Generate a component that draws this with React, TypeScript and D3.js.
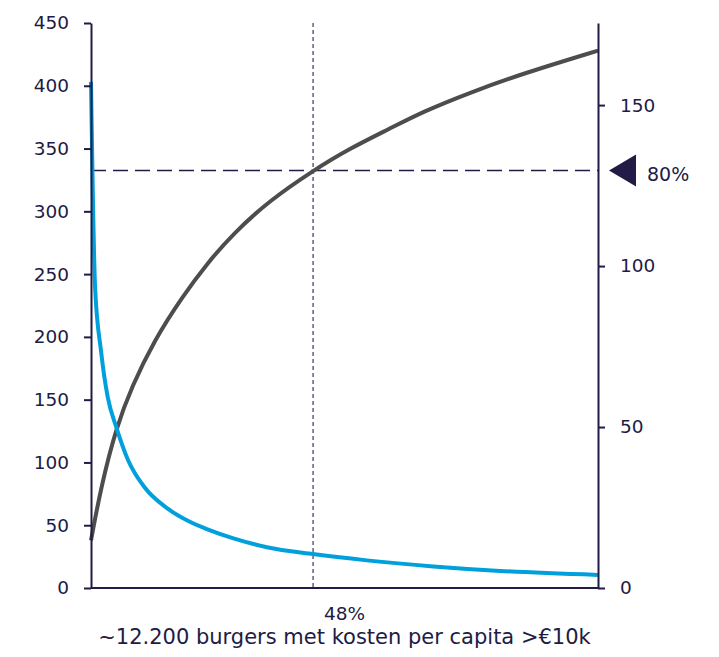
import React, { useEffect, useRef } from "react";
import * as d3 from "d3";

// x = share of burgers along the axis (0-100)
const cumulativeX = [0, 2, 5, 8, 12.5, 18, 23, 28, 35, 44, 51, 59, 65.5, 75, 85, 100];
const cumulativeY = [38, 81, 128, 160, 197.5, 232, 259, 282, 308, 333, 350, 366, 379.5, 395, 409.5, 428];

const costX = [0, 0.8, 2, 3.3, 5, 7.3, 10.6, 15.2, 19.1, 23.1, 28.1, 34.7, 43.8, 54.4, 67.5, 80.7, 100];
const costY = [403, 240, 188, 152, 128, 102, 80, 63, 53.5, 46.5, 39.5, 32.5, 27, 22, 17.2, 13.6, 10.4];

const leftTicks = [0, 50, 100, 150, 200, 250, 300, 350, 400, 450];
const rightTicks = [0, 50, 100, 150];
const rightMax = 175.5;

const thresholdValue = 332.5; // 80% level, on the left scale
const thresholdLabel = "80%";
const cutoffX = 43.8;
const shareLabel = "48%";
const axisTitle = "~12.200 burgers met kosten per capita >€10k";

const W = 719;
const H = 657;
const margin = { top: 23, right: 121, bottom: 69, left: 91 };
const navy = "#211b45";
const font = "DejaVu Sans, Verdana, sans-serif";

export default function App() {
  const leftRef = useRef<SVGGElement>(null);
  const rightRef = useRef<SVGGElement>(null);

  const x = d3.scaleLinear().domain([0, 100]).range([margin.left, W - margin.right]);
  const yL = d3.scaleLinear().domain([0, 450]).range([H - margin.bottom, margin.top]);
  const yR = d3.scaleLinear().domain([0, rightMax]).range([H - margin.bottom, margin.top]);

  useEffect(() => {
    const style = (g) => {
      g.select(".domain").attr("stroke", navy).attr("stroke-width", 2);
      g.selectAll(".tick line").attr("stroke", navy).attr("stroke-width", 2);
      g.selectAll(".tick text")
        .attr("fill", navy)
        .style("font-family", font)
        .style("font-size", "18.5px");
    };
    const gl = d3.select(leftRef.current);
    gl.selectAll("*").remove();
    gl.call(d3.axisLeft(yL).tickValues(leftTicks).tickSize(7).tickSizeOuter(0).tickPadding(15));
    style(gl);
    const gr = d3.select(rightRef.current);
    gr.selectAll("*").remove();
    gr.call(d3.axisRight(yR).tickValues(rightTicks).tickSize(7).tickSizeOuter(0).tickPadding(15));
    style(gr);
  }, []);

  const cumLine = d3.line<number>().curve(d3.curveBasis);
  const costLine = d3.line<number>().curve(d3.curveMonotoneX);

  const cumPath = cumLine(cumulativeX.map((d, i) => [x(d), yL(cumulativeY[i])]) as any);
  const costPath = costLine(costX.map((d, i) => [x(d), yL(costY[i])]) as any);

  const x0 = x(0);
  const x1 = x(100);
  const yBase = yL(0);
  const yThr = yL(thresholdValue);
  const tipX = x1 + 11;

  return (
    <svg width={W} height={H} style={{ position: "absolute", left: 0, top: 0 }}>
      <rect width={W} height={H} fill="#fff" />
      <line x1={x(cutoffX)} x2={x(cutoffX)} y1={margin.top} y2={yBase}
        stroke="#3d3660" strokeWidth={1.2} strokeDasharray="4,3" />
      <line x1={x0} x2={x1} y1={yThr} y2={yThr}
        stroke={navy} strokeWidth={1.6} strokeDasharray="15,7" />
      <path d={cumPath} fill="none" stroke="#4d4d4d" strokeWidth={4} />
      <path d={costPath} fill="none" stroke="#00a0dc" strokeWidth={4} />
      <line x1={x0} x2={x1} y1={yBase} y2={yBase} stroke={navy} strokeWidth={2} />
      <g ref={leftRef} transform={`translate(${x0},0)`} />
      <g ref={rightRef} transform={`translate(${x1},0)`} />
      <polygon points={`${tipX},${yThr} ${tipX + 27},${yThr - 16} ${tipX + 27},${yThr + 16}`} fill={navy} />
      <text x={tipX + 38} y={yThr + 10} fill={navy} fontFamily={font} fontSize={19}>
        {thresholdLabel}
      </text>
      <text x={(x0 + x1) / 2} y={620} textAnchor="middle" fill={navy} fontFamily={font} fontSize={18.5}>
        {shareLabel}
      </text>
      <text x={(x0 + x1) / 2} y={644} textAnchor="middle" fill={navy} fontFamily={font} fontSize={21}>
        {axisTitle}
      </text>
    </svg>
  );
}
